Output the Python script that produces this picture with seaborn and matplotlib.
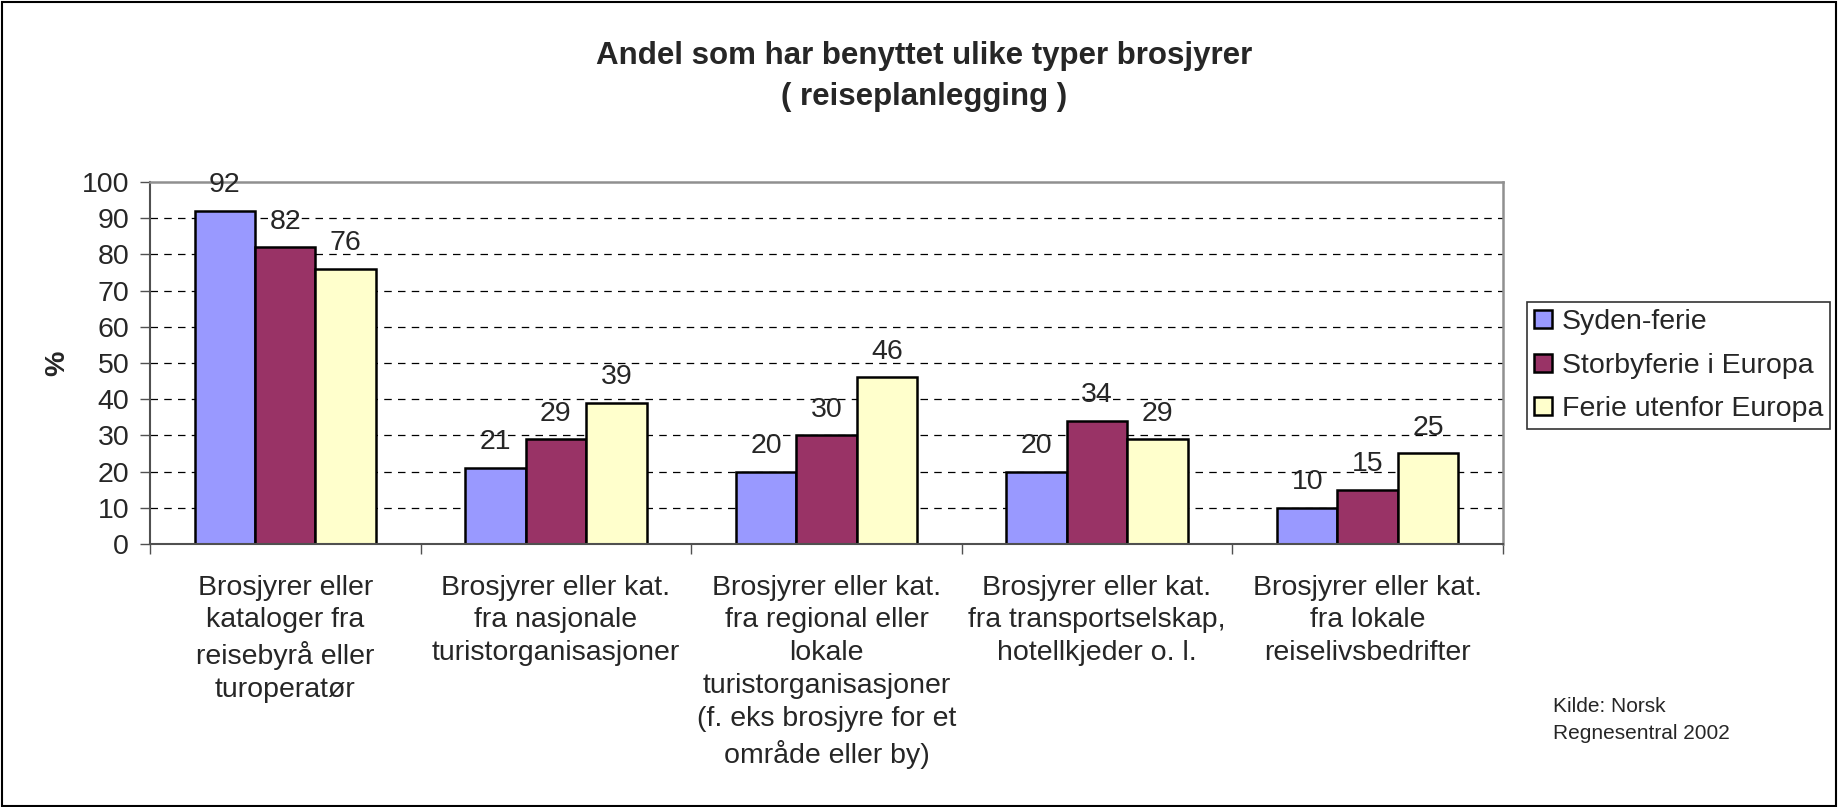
import numpy as np
import pandas as pd
import matplotlib
matplotlib.use('Agg')
import matplotlib.pyplot as plt
import seaborn as sns

categories = [
    'Brosjyrer eller\nkataloger fra\nreisebyrå eller\nturoperatør',
    'Brosjyrer eller kat.\nfra nasjonale\nturistorganisasjoner',
    'Brosjyrer eller kat.\nfra regional eller\nlokale\nturistorganisasjoner\n(f. eks brosjyre for et\nområde eller by)',
    'Brosjyrer eller kat.\nfra transportselskap,\nhotellkjeder o. l.',
    'Brosjyrer eller kat.\nfra lokale\nreiselivsbedrifter',
]
series_names = ['Syden-ferie', 'Storbyferie i Europa', 'Ferie utenfor Europa']
syden = [92, 21, 20, 20, 10]
storby = [82, 29, 30, 34, 15]
utenfor = [76, 39, 46, 29, 25]
colors = ['#9999FF', '#993366', '#FFFFCC']

rows = []
for name, vals in zip(series_names, [syden, storby, utenfor]):
    for cat, v in zip(categories, vals):
        rows.append({'kategori': cat, 'serie': name, 'verdi': v})
df = pd.DataFrame(rows)

sns.set_style('white')
plt.rcParams['font.family'] = ['Liberation Sans', 'DejaVu Sans']
FS = 20.5

fig = plt.figure(figsize=(18.38, 8.07), dpi=100)
ax = fig.add_axes([0.0816, 0.3259, 0.7361, 0.4486])

sns.barplot(data=df, x='kategori', y='verdi', hue='serie', palette=colors,
            width=0.67, gap=0, edgecolor='black', linewidth=1.8,
            saturation=1, ax=ax, legend=True)

for cont in ax.containers:
    ax.bar_label(cont, fmt='%d', padding=9, fontsize=FS)

ax.set_ylim(0, 100)
ax.set_yticks(range(0, 101, 10))
ax.set_xlim(-0.5, 4.5)
for y in range(10, 100, 10):
    ax.axhline(y, color='black', linestyle=(0, (6, 5)), linewidth=0.9, zorder=0)
ax.set_axisbelow(True)

for side in ['top', 'right']:
    ax.spines[side].set_color('#909090')
    ax.spines[side].set_linewidth(1.8)
for side in ['left', 'bottom']:
    ax.spines[side].set_color('#505050')
    ax.spines[side].set_linewidth(1.5)

ax.tick_params(axis='y', direction='out', length=7, width=1, color='#505050',
               labelsize=FS, left=True, pad=8)
ax.set_xticks(range(5))
ax.set_xticklabels(categories, fontsize=FS, linespacing=1.34, va='top')
ax.tick_params(axis='x', length=0, pad=22)
# category boundary ticks
ax.set_xticks(np.arange(-0.5, 5.0, 1.0), minor=True)
ax.tick_params(axis='x', which='minor', direction='out', length=7, width=1,
               color='#505050', bottom=True)

ax.set_xlabel('')
ax.set_ylabel('%', fontsize=FS, fontweight='bold', labelpad=8)

handles, labels = ax.get_legend_handles_labels()
ax.legend_.remove()
leg = fig.legend(handles, labels, loc='upper left', bbox_to_anchor=(0.831, 0.626),
                 frameon=True, fancybox=False, edgecolor='black', fontsize=FS,
                 handlelength=0.6, handleheight=0.6, handletextpad=0.35,
                 labelspacing=0.62, borderpad=0.25, borderaxespad=0)
leg.get_frame().set_linewidth(1.2)

fig.text(0.503, 0.905, 'Andel som har benyttet ulike typer brosjyrer\n( reiseplanlegging )',
         ha='center', va='center', fontsize=22.5, fontweight='bold', linespacing=1.5)

fig.text(0.845, 0.108, 'Kilde: Norsk\nRegnesentral 2002', ha='left', va='center',
         fontsize=15, linespacing=1.55)

fig.patches.append(plt.Rectangle((0.001, 0.001), 0.998, 0.997, transform=fig.transFigure,
                                 fill=False, edgecolor='black', linewidth=1.5))

fig.savefig('out.png', dpi=100, facecolor='white')
